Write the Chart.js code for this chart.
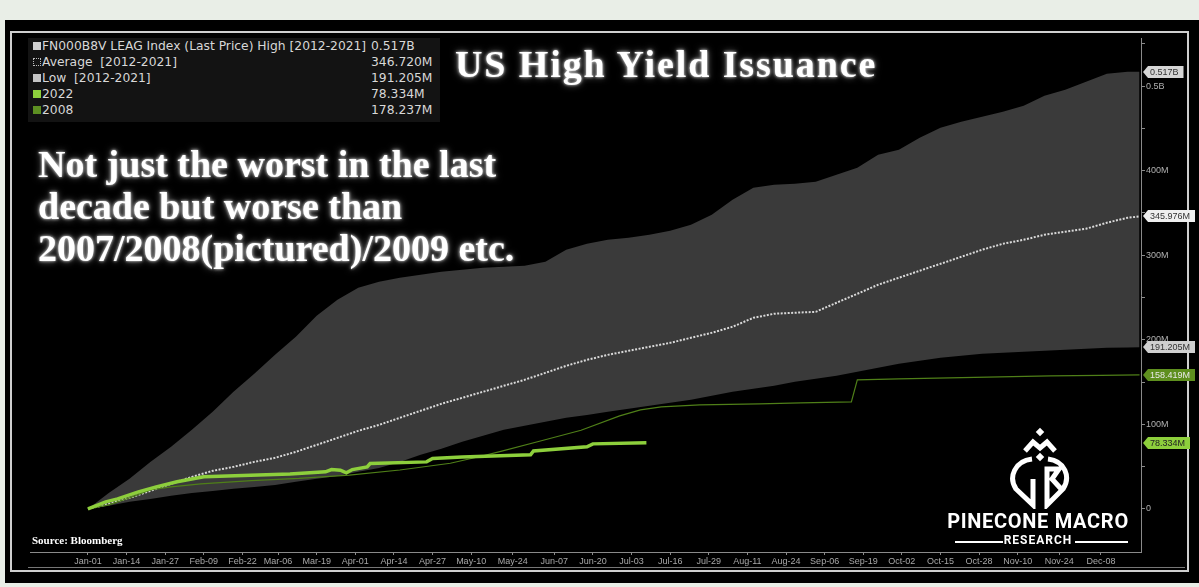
<!DOCTYPE html>
<html><head><meta charset="utf-8">
<script src="https://cdn.jsdelivr.net/npm/chart.js@4.4.1/dist/chart.umd.min.js"></script>
<style>
html,body{margin:0;padding:0;width:1199px;height:587px;overflow:hidden;background:#e9eee7;}
#panel{position:absolute;left:5px;top:20px;width:1194px;height:563px;background:#000;}
#frame{position:absolute;left:10px;top:31px;width:1175px;height:537px;border:2px solid #cfcfcf;}
#wrap{position:absolute;left:0;top:0;width:1199px;height:587px;}
#legend{position:absolute;left:28px;top:38px;width:412px;height:84px;background:#131313;font-family:"DejaVu Sans",sans-serif;font-size:12.3px;color:#d8d8d8;}
.row{position:absolute;left:0;height:16px;line-height:16px;white-space:nowrap;}
.sw{position:absolute;left:5px;top:4px;width:8px;height:8px;}
.lt{position:absolute;left:14px;top:0;}
.lv{position:absolute;left:343px;top:0;}
.glow{position:absolute;color:#fff;font-family:"Liberation Serif","Times New Roman",serif;font-weight:bold;white-space:nowrap;text-shadow:0 0 3px rgba(255,255,255,0.9),0 0 7px rgba(255,255,255,0.55);}
#title{left:455px;top:42px;font-size:38px;letter-spacing:1.9px;}
#sub{left:38px;top:143px;font-size:38px;line-height:42px;}
#src{position:absolute;left:32px;top:534px;font-family:"Liberation Serif",serif;font-weight:bold;font-size:11px;color:#fff;}
#bline{position:absolute;left:28px;top:567px;width:1157px;height:1px;background:#777;}
#brand{position:absolute;left:940px;top:509px;width:196px;text-align:center;font-family:Roboto,"Liberation Sans",sans-serif;font-weight:bold;font-size:20px;color:#fff;letter-spacing:0.7px;}
#research{position:absolute;left:940px;top:533px;width:196px;text-align:center;font-family:Roboto,"Liberation Sans",sans-serif;font-weight:bold;font-size:12px;color:#fff;letter-spacing:1px;}
.rl{position:absolute;top:541px;height:2px;background:#fff;}
#logo{position:absolute;left:1003px;top:427px;}
</style></head>
<body>
<div id="panel"></div>
<div id="frame"></div>
<div id="legend">
  <div class="row" style="top:0px"><div class="sw" style="background:#cfcfcf"></div><span class="lt">FN000B8V LEAG Index (Last Price) High [2012-2021]</span><span class="lv">0.517B</span></div>
  <div class="row" style="top:16px"><div class="sw" style="border:1px dotted #bbb;width:6px;height:6px"></div><span class="lt">Average&nbsp; [2012-2021]</span><span class="lv">346.720M</span></div>
  <div class="row" style="top:32px"><div class="sw" style="background:#c4c4c4"></div><span class="lt">Low&nbsp; [2012-2021]</span><span class="lv">191.205M</span></div>
  <div class="row" style="top:48px"><div class="sw" style="background:#8dcf3c"></div><span class="lt">2022</span><span class="lv">78.334M</span></div>
  <div class="row" style="top:64px"><div class="sw" style="background:#5d8f22"></div><span class="lt">2008</span><span class="lv">178.237M</span></div>
</div>
<div id="bline"></div>
<div id="wrap"><canvas id="c"></canvas></div>
<div id="title" class="glow">US High Yield Issuance</div>
<div id="sub" class="glow">Not just the worst in the last<br>decade but worse than<br>2007/2008(pictured)/2009 etc.</div>
<div id="src">Source: Bloomberg</div>
<svg id="logo" width="72" height="82" viewBox="0 0 72 82">
  <g fill="none" stroke="#fff" stroke-width="5" stroke-linejoin="miter">
    <polyline points="22,24 30,15 37,21 44,15 52,24"/>
    <path d="M29,32 C12,34 5,50 13,62 L30,78 L30,52"/>
    <path d="M45,32 C62,34 68,50 60,62 L44,78 L44,42 L56,42 L49,52 L60,64"/>
  </g>
  <rect x="34" y="2" width="6" height="6" fill="#fff" transform="rotate(45 37 5)"/>
  <rect x="34" y="27" width="6" height="6" fill="#fff" transform="rotate(45 37 30)"/>
</svg>
<div id="brand">PINECONE MACRO</div>
<div id="research">RESEARCH</div>
<div class="rl" style="left:955px;width:48px"></div>
<div class="rl" style="left:1075px;width:53px"></div>
<script>
// x = day of year (Jan-01 = 0), values in millions USD
const bandDays = [0,7,14,21,28,35,42,49,56,63,70,77,84,91,98,105,112,119,126,133,140,147,154,161,168,175,182,189,196,203,210,217,224,231,238,245,252,259,266,273,280,287,294,301,308,315,322,329,336,343,350,354];
const highVals = [0,18.9,35.5,55.6,73.4,93.5,114.8,138.5,159.8,182.2,203.6,228.4,247.3,261.5,268.6,273.4,276.9,280.5,282.8,285.2,286.4,287.6,292.3,306.5,313.6,318.3,320.7,324.3,329,336.1,347.9,365.7,379.9,383.4,384.6,387,395.3,403.6,418.9,424.9,439.1,450.9,458,463.9,469.8,476.9,488.8,495.9,505.3,514.8,517,517];
const lowVals = [0,3.6,8.3,11.8,15.4,18.9,21.3,23.7,26,28.4,32,35.5,39,43.8,48.5,55.6,63.9,71,79.3,86.4,93.5,98.2,103,107.7,111.2,114.8,118.3,121.9,125.4,129,133.7,138.5,142,145.6,150.3,153.8,157.4,162.1,166.9,171.6,175.1,178.7,181.1,183.4,184.6,185.8,187,188.2,189.3,190.5,191,191.205];
const avgVals = [0,5.9,13,21.3,29.6,37.9,45,49.7,55.6,60.4,67.5,75.7,84,92.3,99.4,107.7,116,124.3,131.4,138.5,145.6,152.7,160.9,169.2,176.3,182.2,187,191.7,196.4,202.4,208.3,215.4,226,230.8,232,233.1,243.8,254.4,265.1,273.4,281.7,289.9,298.2,306.5,313.6,318.3,324.3,327.8,331.4,338.5,344.4,345.976];
const y2022Days = [0,6,10,17,23,30,39,68,80,82,85,87,89,94,95,114,116,126,149,150,168,170,188];
const y2022Vals = [0,8.3,11.8,20.1,26,32,37.9,41.4,43.8,46.5,45.7,42.6,46.5,49.7,53.6,55.6,59.5,61.5,63.9,68.6,73.4,76.9,78.334];
const y2008Days = [0,7,14,21,28,38,55,71,88,105,122,132,139,152,166,179,186,193,206,226,240,257,259,273,290,307,324,341,354];
const y2008Vals = [0,4.7,13,22.5,26,29.6,33.5,36,40,46,54,62,68,80,93,110,117.2,120.7,123.1,124.3,125.4,126.6,152.7,153.8,155,156.2,157.4,158,158.419];
const xTickDays = [0,13,26,39,52,64,77,90,103,116,129,143,157,170,183,196,209,222,235,248,261,274,287,300,313,327,341];
const xTickLabels = ["Jan-01","Jan-14","Jan-27","Feb-09","Feb-22","Mar-06","Mar-19","Apr-01","Apr-14","Apr-27","May-10","May-24","Jun-07","Jun-20","Jul-03","Jul-16","Jul-29","Aug-11","Aug-24","Sep-06","Sep-19","Oct-02","Oct-15","Oct-28","Nov-10","Nov-24","Dec-08"];
const yTickVals = [0,50,100,150,200,250,300,350,400,450,500,550];
const tagValues = [517,345.976,191.205,158.419,78.334];
const tagLabels = ["0.517B","345.976M","191.205M","158.419M","78.334M"];
const tagColors = [["#d6d6d6","#333"],["#efefef","#333"],["#cfcfcf","#333"],["#5e8f1e","#e8e8e8"],["#8dcf3c","#222"]];

const pts = (xs, ys) => xs.map((x,i)=>({x:x,y:ys[i]}));

const tagPlugin = {
  id:'tags',
  afterDraw(chart){
    const ctx = chart.ctx, ys = chart.scales.y, x0 = chart.chartArea.right;
    ctx.save();
    ctx.font = '9px "Liberation Sans", sans-serif';
    tagValues.forEach((v,i)=>{
      const py = Math.round(ys.getPixelForValue(v));
      const w = ctx.measureText(tagLabels[i]).width + 7;
      ctx.beginPath();
      ctx.moveTo(x0+2, py);
      ctx.lineTo(x0+7, py-6);
      ctx.lineTo(x0+7+w, py-6);
      ctx.lineTo(x0+7+w, py+6);
      ctx.lineTo(x0+7, py+6);
      ctx.closePath();
      ctx.fillStyle = tagColors[i][0];
      ctx.fill();
      ctx.fillStyle = tagColors[i][1];
      ctx.textBaseline = 'middle';
      ctx.fillText(tagLabels[i], x0+9, py+0.5);
    });
    ctx.restore();
  }
};

new Chart(document.getElementById('c'), {
  type:'line',
  data:{datasets:[
    {label:'2022', data:pts(y2022Days,y2022Vals), borderColor:'#8dcf3c', borderWidth:3.5, fill:false},
    {label:'2008', data:pts(y2008Days,y2008Vals), borderColor:'#4f7f18', borderWidth:1.2, fill:false},
    {label:'Average', data:pts(bandDays,avgVals), borderColor:'#d9d9d9', borderWidth:2, borderDash:[2,1.5], fill:false},
    {label:'High', data:pts(bandDays,highVals), borderWidth:0, borderColor:'rgba(0,0,0,0)', backgroundColor:'#3a3a3a', fill:'+1'},
    {label:'Low', data:pts(bandDays,lowVals), borderWidth:0, borderColor:'rgba(0,0,0,0)', fill:false}
  ]},
  options:{
    responsive:true, maintainAspectRatio:false, animation:false,
    layout:{padding:{left:30, top:38, right:10, bottom:20}},
    elements:{point:{radius:0}, line:{tension:0}},
    plugins:{legend:{display:false}, tooltip:{enabled:false}},
    scales:{
      x:{type:'linear', min:-19.5, max:354.5,
        afterBuildTicks:s=>{s.ticks = xTickDays.map(v=>({value:v}));},
        afterFit:s=>{s.height=15;},
        ticks:{autoSkip:false, maxRotation:0, padding:1, color:'#a8a8a8', font:{family:'"Liberation Sans", sans-serif', size:9},
          callback:(v,i)=>xTickLabels[i]},
        grid:{drawOnChartArea:false, tickLength:3, color:'#8a8a8a'},
        border:{display:true, color:'#8a8a8a'}
      },
      y:{position:'right', min:-51, max:557,
        afterBuildTicks:s=>{s.ticks = yTickVals.map(v=>({value:v}));},
        afterFit:s=>{s.width=48;},
        ticks:{padding:1, color:'#b0b0b0', font:{family:'"Liberation Sans", sans-serif', size:9},
          callback:v=> v%100!==0 ? '' : (v===0 ? '0' : (v>=500 ? (v/1000)+'B' : v+'M'))},
        grid:{drawOnChartArea:false, tickLength:4, color:'#8a8a8a'},
        border:{display:true, color:'#8a8a8a'}
      }
    }
  },
  plugins:[tagPlugin]
});
</script>
</body></html>
